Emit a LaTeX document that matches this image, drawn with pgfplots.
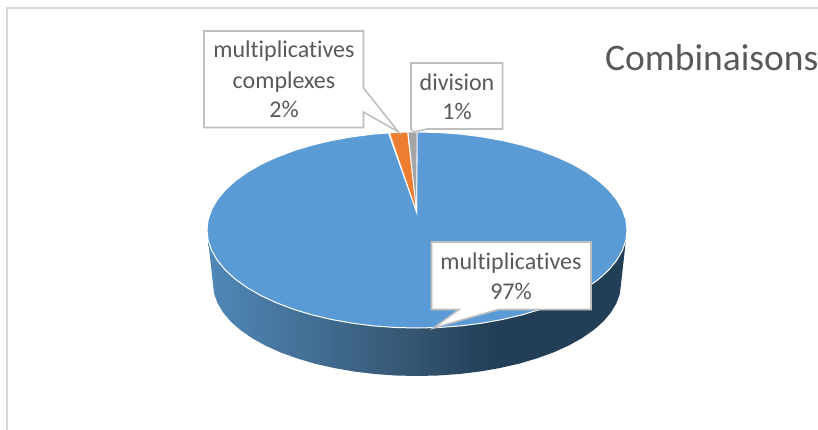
\documentclass[border=0pt]{standalone}
\usepackage{fontspec}
\setmainfont[Ligatures=NoCommon]{Carlito}
\usepackage{pgfplots}
\pgfplotsset{compat=1.18}
\definecolor{sideA}{HTML}{5088B8}
\definecolor{sideB}{HTML}{34546F}
\definecolor{sideC}{HTML}{233F58}
\definecolor{pieBlue}{HTML}{5B9BD5}
\definecolor{pieOrange}{HTML}{ED7D31}
\definecolor{pieGrey}{HTML}{A5A5A5}
\definecolor{boxLine}{HTML}{BFBFBF}
\definecolor{txt}{HTML}{595959}
\definecolor{frameC}{HTML}{D9D9D9}
\pgfdeclarehorizontalshading{sidegrad}{100bp}{color(0bp)=(sideA);color(25bp)=(sideA);color(50bp)=(sideB);color(59bp)=(sideC);color(100bp)=(sideC)}
\tikzset{
  lbl/.style={font=\fontsize{24bp}{26bp}\selectfont, text=txt, anchor=base, inner sep=0pt},
  box/.style={draw=boxLine, fill=white, line width=1.6bp, line join=miter},
}
\begin{document}
\begin{tikzpicture}[x=1bp,y=1bp]
\useasboundingbox (0,0) rectangle (818bp,430bp);
\begin{axis}[
  scale only axis, width=818bp, height=430bp,
  xmin=0, xmax=818, ymin=0, ymax=430, y dir=reverse,
  hide axis,
  clip=true,
]
% frame
\addplot[draw=frameC, line width=1.5bp] coordinates {(818,8) (7,8) (7,430)};
% side of the pie
\addplot[draw=none, shading=sidegrad] coordinates {
 (208.1,240.2) (213,284) (214.1,293.6) (217.5,303.1) (223,312.4) (230.6,321.4) (240.3,330) (252,338.1)
 (265.4,345.6) (280.5,352.4) (297.1,358.4) (315,363.7) (334,368) (354,371.5) (374.6,374) (395.7,375.5) (417,376)
 (438.3,375.5) (459.4,374) (480,371.5) (500,368) (519,363.7) (536.9,358.4) (553.5,352.4) (568.6,345.6)
 (582,338.1) (593.7,330) (603.4,321.4) (611,312.4) (616.5,303.1) (619.9,293.6) (621,284) (625.9,240.2)
} --cycle;
% top: multiplicatives
\addplot[draw=white, line width=1bp, fill=pieBlue] coordinates {
 (416.6,212) (417,132) (438.9,132.5) (460.7,134.1) (481.9,136.8) (502.4,140.5) (522,145.1) (540.4,150.7)
 (557.5,157.2) (573.1,164.4) (586.9,172.4) (598.9,181) (608.8,190.1) (616.7,199.7) (622.4,209.6) (625.9,219.8)
 (627,230) (625.9,240.2) (622.4,250.4) (616.7,260.3) (608.8,269.9) (598.9,279) (586.9,287.6) (573.1,295.6)
 (557.5,302.8) (540.4,309.3) (522,314.9) (502.4,319.5) (481.9,323.2) (460.7,325.9) (438.9,327.5) (417,328)
 (395.1,327.5) (373.3,325.9) (352.1,323.2) (331.6,319.5) (312,314.9) (293.6,309.3) (276.5,302.8) (260.9,295.6)
 (247.1,287.6) (235.1,279) (225.2,269.9) (217.3,260.3) (211.6,250.4) (208.1,240.2) (207,230) (208.1,219.8)
 (211.6,209.6) (217.3,199.7) (225.2,190.1) (235.1,181) (247.1,172.4) (260.9,164.4) (276.5,157.2) (293.6,150.7)
 (312,145.1) (331.6,140.5) (352.1,136.8) (373.3,134.1) (388.5,133)
} --cycle;
% top: multiplicatives complexes
\addplot[draw=white, line width=0.8bp, fill=pieOrange] coordinates {
 (416.6,212) (389.5,133) (398,132.4) (407.6,132.1)
} --cycle;
% top: division
\addplot[draw=white, line width=0.8bp, fill=pieGrey] coordinates {
 (416.6,212) (408,132.1) (417,132)
} --cycle;
% callouts
\addplot[box] coordinates {
 (204,31) (363.5,31) (363.5,88) (398.5,132) (363.5,112) (363.5,127.5) (204,127.5)
} --cycle;
\addplot[box] coordinates {
 (411,63) (502.5,63) (502.5,129) (427,129) (414,132) (411,129)
} --cycle;
\addplot[box] coordinates {
 (431.5,242) (591,242) (591,309.5) (498.5,309.5) (433.5,328) (459,309.5) (431.5,309.5)
} --cycle;
% texts
\node[lbl] at (axis cs:284,57.7) {multiplicatives};
\node[lbl] at (axis cs:284,88.3) {complexes};
\node[lbl] at (axis cs:284,117) {2\%};
\node[lbl] at (axis cs:457,90) {division};
\node[lbl] at (axis cs:457,119) {1\%};
\node[lbl] at (axis cs:511,269.3) {multiplicatives};
\node[lbl] at (axis cs:511,299.3) {97\%};
\node[lbl, font=\fontsize{37.5bp}{40bp}\selectfont, anchor=base west] at (axis cs:605,70) {Combinaisons};
\end{axis}
\end{tikzpicture}
\end{document}
